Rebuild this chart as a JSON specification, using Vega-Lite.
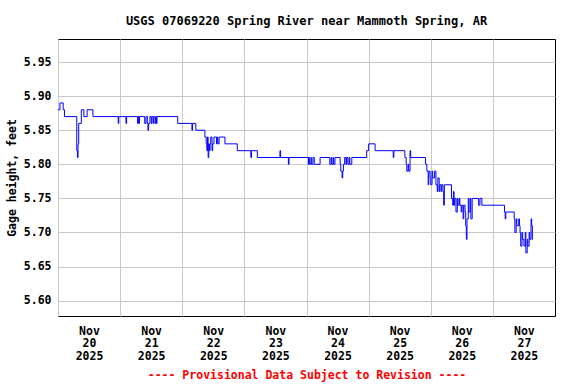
{
  "$schema": "https://vega.github.io/schema/vega-lite/v6.json",
  "width": 497,
  "height": 277,
  "autosize": {"type": "none"},
  "padding": {"left": 58, "top": 39, "right": 21, "bottom": 68},
  "background": "white",
  "config": {
    "view": {"stroke": "#000000", "strokeWidth": 1},
    "font": "DejaVu Sans Mono"
  },
  "title": {
    "text": "USGS 07069220 Spring River near Mammoth Spring, AR",
    "font": "DejaVu Sans Mono",
    "fontSize": 12,
    "fontWeight": "bold",
    "color": "#000000",
    "anchor": "middle",
    "offset": 11
  },
  "data": {
    "values": [
      {"t": "2025-11-20T00:00:00", "v": 5.88},
      {"t": "2025-11-20T00:45:00", "v": 5.89},
      {"t": "2025-11-20T02:00:00", "v": 5.88},
      {"t": "2025-11-20T02:30:00", "v": 5.87},
      {"t": "2025-11-20T07:15:00", "v": 5.82},
      {"t": "2025-11-20T07:30:00", "v": 5.81},
      {"t": "2025-11-20T07:45:00", "v": 5.83},
      {"t": "2025-11-20T08:00:00", "v": 5.86},
      {"t": "2025-11-20T09:00:00", "v": 5.88},
      {"t": "2025-11-20T10:00:00", "v": 5.87},
      {"t": "2025-11-20T11:15:00", "v": 5.88},
      {"t": "2025-11-20T13:30:00", "v": 5.87},
      {"t": "2025-11-20T23:15:00", "v": 5.86},
      {"t": "2025-11-20T23:30:00", "v": 5.87},
      {"t": "2025-11-21T02:15:00", "v": 5.86},
      {"t": "2025-11-21T02:30:00", "v": 5.87},
      {"t": "2025-11-21T06:45:00", "v": 5.86},
      {"t": "2025-11-21T07:00:00", "v": 5.87},
      {"t": "2025-11-21T07:15:00", "v": 5.86},
      {"t": "2025-11-21T07:30:00", "v": 5.87},
      {"t": "2025-11-21T09:30:00", "v": 5.86},
      {"t": "2025-11-21T10:00:00", "v": 5.87},
      {"t": "2025-11-21T10:30:00", "v": 5.86},
      {"t": "2025-11-21T10:45:00", "v": 5.85},
      {"t": "2025-11-21T11:00:00", "v": 5.86},
      {"t": "2025-11-21T11:30:00", "v": 5.87},
      {"t": "2025-11-21T12:00:00", "v": 5.86},
      {"t": "2025-11-21T12:15:00", "v": 5.87},
      {"t": "2025-11-21T12:45:00", "v": 5.86},
      {"t": "2025-11-21T13:00:00", "v": 5.87},
      {"t": "2025-11-21T13:30:00", "v": 5.86},
      {"t": "2025-11-21T13:45:00", "v": 5.87},
      {"t": "2025-11-21T14:00:00", "v": 5.86},
      {"t": "2025-11-21T14:15:00", "v": 5.87},
      {"t": "2025-11-21T22:15:00", "v": 5.86},
      {"t": "2025-11-22T03:45:00", "v": 5.85},
      {"t": "2025-11-22T04:00:00", "v": 5.86},
      {"t": "2025-11-22T05:15:00", "v": 5.85},
      {"t": "2025-11-22T08:45:00", "v": 5.84},
      {"t": "2025-11-22T09:15:00", "v": 5.83},
      {"t": "2025-11-22T09:30:00", "v": 5.82},
      {"t": "2025-11-22T09:45:00", "v": 5.84},
      {"t": "2025-11-22T10:00:00", "v": 5.81},
      {"t": "2025-11-22T10:15:00", "v": 5.83},
      {"t": "2025-11-22T10:30:00", "v": 5.82},
      {"t": "2025-11-22T10:45:00", "v": 5.83},
      {"t": "2025-11-22T11:00:00", "v": 5.84},
      {"t": "2025-11-22T11:30:00", "v": 5.82},
      {"t": "2025-11-22T11:45:00", "v": 5.83},
      {"t": "2025-11-22T12:15:00", "v": 5.84},
      {"t": "2025-11-22T13:15:00", "v": 5.83},
      {"t": "2025-11-22T13:30:00", "v": 5.84},
      {"t": "2025-11-22T13:45:00", "v": 5.83},
      {"t": "2025-11-22T14:15:00", "v": 5.84},
      {"t": "2025-11-22T16:30:00", "v": 5.83},
      {"t": "2025-11-22T21:15:00", "v": 5.82},
      {"t": "2025-11-23T02:30:00", "v": 5.81},
      {"t": "2025-11-23T02:45:00", "v": 5.82},
      {"t": "2025-11-23T05:00:00", "v": 5.81},
      {"t": "2025-11-23T13:45:00", "v": 5.82},
      {"t": "2025-11-23T14:00:00", "v": 5.81},
      {"t": "2025-11-23T17:00:00", "v": 5.80},
      {"t": "2025-11-23T17:15:00", "v": 5.81},
      {"t": "2025-11-24T00:45:00", "v": 5.80},
      {"t": "2025-11-24T01:00:00", "v": 5.81},
      {"t": "2025-11-24T01:15:00", "v": 5.80},
      {"t": "2025-11-24T01:45:00", "v": 5.81},
      {"t": "2025-11-24T02:00:00", "v": 5.80},
      {"t": "2025-11-24T02:30:00", "v": 5.81},
      {"t": "2025-11-24T03:00:00", "v": 5.80},
      {"t": "2025-11-24T05:15:00", "v": 5.81},
      {"t": "2025-11-24T09:00:00", "v": 5.80},
      {"t": "2025-11-24T09:30:00", "v": 5.81},
      {"t": "2025-11-24T09:45:00", "v": 5.80},
      {"t": "2025-11-24T10:15:00", "v": 5.81},
      {"t": "2025-11-24T10:30:00", "v": 5.80},
      {"t": "2025-11-24T11:00:00", "v": 5.81},
      {"t": "2025-11-24T13:00:00", "v": 5.80},
      {"t": "2025-11-24T13:15:00", "v": 5.79},
      {"t": "2025-11-24T13:45:00", "v": 5.78},
      {"t": "2025-11-24T14:00:00", "v": 5.79},
      {"t": "2025-11-24T14:15:00", "v": 5.80},
      {"t": "2025-11-24T14:45:00", "v": 5.81},
      {"t": "2025-11-24T15:15:00", "v": 5.80},
      {"t": "2025-11-24T15:30:00", "v": 5.81},
      {"t": "2025-11-24T16:00:00", "v": 5.80},
      {"t": "2025-11-24T16:30:00", "v": 5.81},
      {"t": "2025-11-24T16:45:00", "v": 5.80},
      {"t": "2025-11-24T17:30:00", "v": 5.81},
      {"t": "2025-11-24T23:15:00", "v": 5.82},
      {"t": "2025-11-25T00:00:00", "v": 5.83},
      {"t": "2025-11-25T02:30:00", "v": 5.82},
      {"t": "2025-11-25T09:30:00", "v": 5.81},
      {"t": "2025-11-25T09:45:00", "v": 5.82},
      {"t": "2025-11-25T14:00:00", "v": 5.81},
      {"t": "2025-11-25T14:30:00", "v": 5.80},
      {"t": "2025-11-25T14:45:00", "v": 5.79},
      {"t": "2025-11-25T15:15:00", "v": 5.80},
      {"t": "2025-11-25T15:30:00", "v": 5.79},
      {"t": "2025-11-25T16:00:00", "v": 5.82},
      {"t": "2025-11-25T16:15:00", "v": 5.81},
      {"t": "2025-11-25T22:00:00", "v": 5.80},
      {"t": "2025-11-25T22:30:00", "v": 5.79},
      {"t": "2025-11-25T23:00:00", "v": 5.77},
      {"t": "2025-11-25T23:15:00", "v": 5.79},
      {"t": "2025-11-25T23:45:00", "v": 5.78},
      {"t": "2025-11-26T00:00:00", "v": 5.77},
      {"t": "2025-11-26T00:30:00", "v": 5.79},
      {"t": "2025-11-26T00:45:00", "v": 5.78},
      {"t": "2025-11-26T01:30:00", "v": 5.79},
      {"t": "2025-11-26T02:00:00", "v": 5.77},
      {"t": "2025-11-26T02:30:00", "v": 5.76},
      {"t": "2025-11-26T02:45:00", "v": 5.78},
      {"t": "2025-11-26T03:15:00", "v": 5.76},
      {"t": "2025-11-26T03:30:00", "v": 5.77},
      {"t": "2025-11-26T04:00:00", "v": 5.76},
      {"t": "2025-11-26T04:15:00", "v": 5.77},
      {"t": "2025-11-26T04:45:00", "v": 5.76},
      {"t": "2025-11-26T05:00:00", "v": 5.74},
      {"t": "2025-11-26T05:15:00", "v": 5.77},
      {"t": "2025-11-26T08:00:00", "v": 5.75},
      {"t": "2025-11-26T08:30:00", "v": 5.74},
      {"t": "2025-11-26T08:45:00", "v": 5.76},
      {"t": "2025-11-26T09:00:00", "v": 5.74},
      {"t": "2025-11-26T09:15:00", "v": 5.75},
      {"t": "2025-11-26T09:45:00", "v": 5.73},
      {"t": "2025-11-26T10:15:00", "v": 5.75},
      {"t": "2025-11-26T10:30:00", "v": 5.74},
      {"t": "2025-11-26T11:00:00", "v": 5.75},
      {"t": "2025-11-26T11:15:00", "v": 5.74},
      {"t": "2025-11-26T11:45:00", "v": 5.73},
      {"t": "2025-11-26T12:00:00", "v": 5.74},
      {"t": "2025-11-26T12:30:00", "v": 5.72},
      {"t": "2025-11-26T12:45:00", "v": 5.74},
      {"t": "2025-11-26T13:15:00", "v": 5.73},
      {"t": "2025-11-26T13:30:00", "v": 5.71},
      {"t": "2025-11-26T13:45:00", "v": 5.69},
      {"t": "2025-11-26T14:00:00", "v": 5.72},
      {"t": "2025-11-26T14:30:00", "v": 5.75},
      {"t": "2025-11-26T14:45:00", "v": 5.73},
      {"t": "2025-11-26T15:15:00", "v": 5.75},
      {"t": "2025-11-26T15:30:00", "v": 5.72},
      {"t": "2025-11-26T16:00:00", "v": 5.75},
      {"t": "2025-11-26T18:30:00", "v": 5.74},
      {"t": "2025-11-26T19:00:00", "v": 5.75},
      {"t": "2025-11-26T19:45:00", "v": 5.74},
      {"t": "2025-11-27T04:30:00", "v": 5.73},
      {"t": "2025-11-27T04:45:00", "v": 5.72},
      {"t": "2025-11-27T05:00:00", "v": 5.73},
      {"t": "2025-11-27T08:15:00", "v": 5.72},
      {"t": "2025-11-27T08:30:00", "v": 5.70},
      {"t": "2025-11-27T09:00:00", "v": 5.72},
      {"t": "2025-11-27T09:15:00", "v": 5.71},
      {"t": "2025-11-27T10:00:00", "v": 5.72},
      {"t": "2025-11-27T10:15:00", "v": 5.71},
      {"t": "2025-11-27T10:30:00", "v": 5.70},
      {"t": "2025-11-27T10:45:00", "v": 5.68},
      {"t": "2025-11-27T11:15:00", "v": 5.70},
      {"t": "2025-11-27T11:30:00", "v": 5.69},
      {"t": "2025-11-27T12:00:00", "v": 5.68},
      {"t": "2025-11-27T12:30:00", "v": 5.70},
      {"t": "2025-11-27T12:45:00", "v": 5.67},
      {"t": "2025-11-27T13:15:00", "v": 5.69},
      {"t": "2025-11-27T13:30:00", "v": 5.68},
      {"t": "2025-11-27T14:00:00", "v": 5.70},
      {"t": "2025-11-27T14:15:00", "v": 5.69},
      {"t": "2025-11-27T14:45:00", "v": 5.72},
      {"t": "2025-11-27T15:00:00", "v": 5.71},
      {"t": "2025-11-27T15:15:00", "v": 5.69},
      {"t": "2025-11-27T15:30:00", "v": 5.69}
    ]
  },
  "mark": {"type": "line", "interpolate": "step-after", "color": "#0000ff", "strokeWidth": 1, "clip": true},
  "encoding": {
    "x": {
      "field": "t",
      "type": "temporal",
      "scale": {
        "domain": [
          {"year": 2025, "month": 11, "date": 20},
          {"year": 2025, "month": 11, "date": 28}
        ],
        "nice": false
      },
      "axis": {
        "values": [
          {"year": 2025, "month": 11, "date": 20},
          {"year": 2025, "month": 11, "date": 21},
          {"year": 2025, "month": 11, "date": 22},
          {"year": 2025, "month": 11, "date": 23},
          {"year": 2025, "month": 11, "date": 24},
          {"year": 2025, "month": 11, "date": 25},
          {"year": 2025, "month": 11, "date": 26},
          {"year": 2025, "month": 11, "date": 27}
        ],
        "labelExpr": "[timeFormat(datum.value, '%b'), timeFormat(datum.value, '%d'), timeFormat(datum.value, '%Y')]",
        "labelOffset": 31,
        "labelAlign": "center",
        "labelBaseline": "top",
        "labelPadding": 9,
        "labelLineHeight": 12.7,
        "labelFont": "DejaVu Sans Mono",
        "labelFontSize": 11.5,
        "labelFontWeight": "bold",
        "labelColor": "#000000",
        "labelFlush": false,
        "labelOverlap": false,
        "ticks": false,
        "domain": false,
        "grid": true,
        "gridColor": "#c8c8c8",
        "gridWidth": 1,
        "gridOpacity": 1,
        "title": "---- Provisional Data Subject to Revision ----",
        "titleColor": "#ff0000",
        "titleFont": "DejaVu Sans Mono",
        "titleFontSize": 11.5,
        "titleFontWeight": "bold",
        "titlePadding": 8
      }
    },
    "y": {
      "field": "v",
      "type": "quantitative",
      "scale": {"domain": [5.5775, 5.9838], "nice": false, "zero": false},
      "axis": {
        "values": [5.60, 5.65, 5.70, 5.75, 5.80, 5.85, 5.90, 5.95],
        "format": ".2f",
        "labelFont": "DejaVu Sans Mono",
        "labelFontSize": 11.5,
        "labelFontWeight": "bold",
        "labelColor": "#000000",
        "labelPadding": 7,
        "ticks": false,
        "domain": false,
        "grid": true,
        "gridColor": "#c8c8c8",
        "gridWidth": 1,
        "gridOpacity": 1,
        "title": "Gage height, feet",
        "titleFont": "DejaVu Sans Mono",
        "titleFontSize": 11.5,
        "titleFontWeight": "bold",
        "titleColor": "#000000",
        "titleX": -46,
        "titleY": 138.5,
        "titleBaseline": "middle",
        "titleAngle": -90,
        "titleAlign": "center"
      }
    }
  }
}
